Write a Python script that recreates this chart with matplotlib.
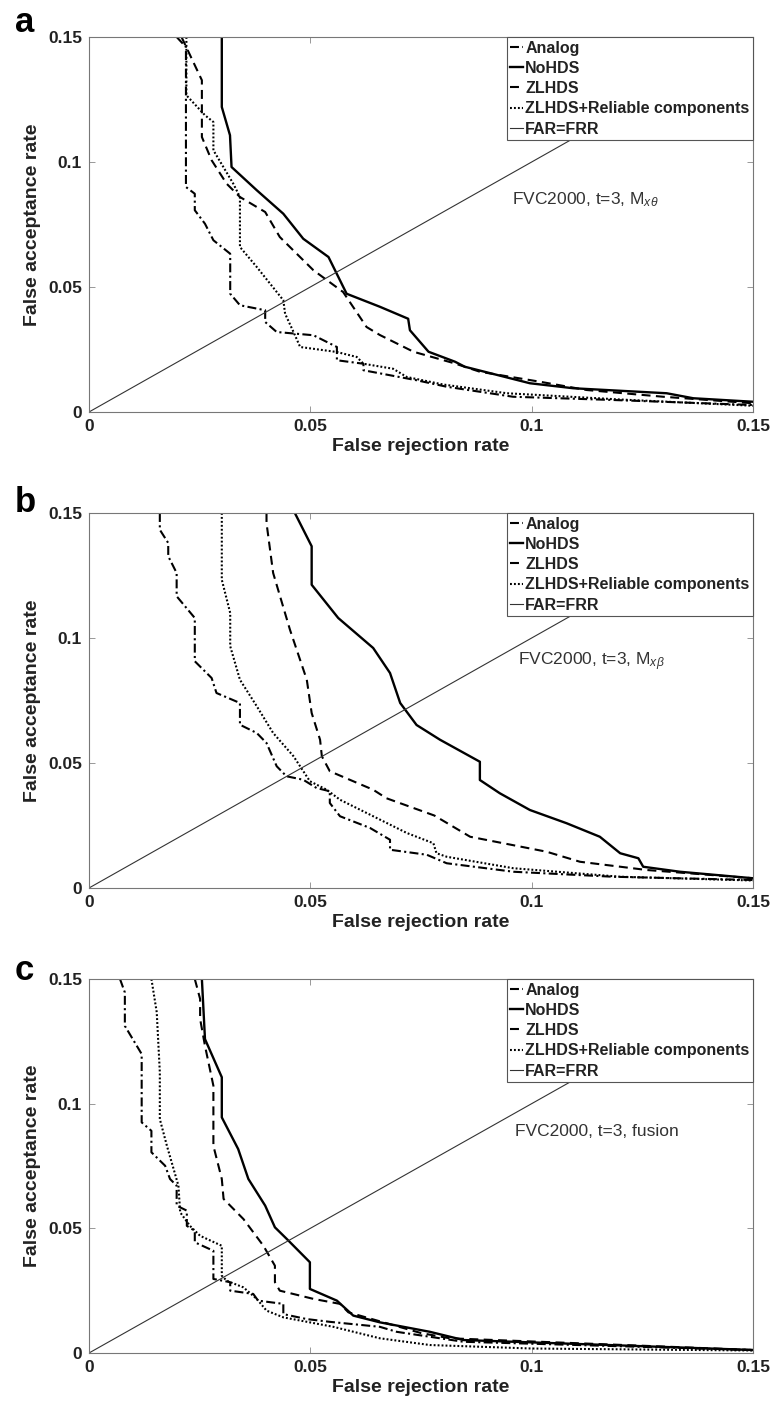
import matplotlib
matplotlib.use('Agg')
import matplotlib.pyplot as plt

plt.rcParams['font.family'] = ['Liberation Sans', 'DejaVu Sans']
plt.rcParams['mathtext.fontset'] = 'custom'
plt.rcParams['mathtext.rm'] = 'Liberation Sans'
plt.rcParams['mathtext.it'] = 'Liberation Sans:italic'

# ---- panel a: M_x theta ----
a_analog_x = [.0198, .0219, .0219, .0239, .0239, .0262, .0281, .0319, .0319, .0341, .0398, .0398, .0424,
              .0507, .056, .056, .062, .062, .074, .0808, .0958, .1184, .15]
a_analog_y = [.15, .146, .09, .0873, .0807, .0753, .0687, .0633, .0473, .0427, .0407, .036, .032,
              .0307, .026, .0207, .0193, .0167, .0127, .0101, .0061, .0048, .0028]
a_nohds_x = [.0300, .0300, .03185, .0322, .0379, .0439, .0484, .0541, .0582, .0657, .0721, .0725, .0767,
             .0827, .0849, .0996, .1094, .1305, .1365, .15]
a_nohds_y = [.15, .122, .1107, .098, .0887, .0793, .0693, .062, .0473, .0421, .0373, .0327, .0241,
             .0201, .0181, .0115, .0095, .0075, .0055, .0041]
a_zlhds_x = [.0209, .0255, .0255, .0277, .0311, .0341, .0398, .0431, .0507, .0574, .0627, .0657, .0733,
             .0823, .0883, .1019, .1124, .1297, .15]
a_zlhds_y = [.15, .1327, .11, .1007, .0913, .086, .080, .070, .0567, .048, .034, .0308, .0241,
             .0196, .0161, .0121, .0088, .0061, .0035]
a_rel_x = [.022, .022, .0262, .0281, .0281, .0326, .0341, .0341, .0379, .0439, .0443, .0462, .0477,
           .056, .0605, .062, .0687, .0718, .08, .0944, .12, .15]
a_rel_y = [.15, .1267, .1187, .116, .1047, .0913, .086, .066, .058, .0447, .0393, .032, .026,
           .024, .022, .0193, .0173, .014, .011, .0075, .005, .0025]

# ---- panel b: M_x beta ----
b_analog_x = [.016, .016, .0179, .0179, .0198, .0198, .0239, .0239, .0277, .0288, .0341, .0341, .0379,
              .0401, .0424, .0446, .0484, .0514, .0544, .0544, .0567, .0635, .068, .068, .0763, .0808,
              .0959, .1184, .15]
b_analog_y = [.15, .1433, .138, .1327, .126, .1167, .108, .0907, .084, .078, .074, .0653, .062,
              .058, .0487, .0447, .0433, .04, .0387, .034, .0287, .024, .0193, .0153, .0133, .0099,
              .0065, .0045, .0032]
b_nohds_x = [.0465, .0503, .0503, .0563, .0642, .068, .0703, .074, .0793, .0883, .0883, .0928, .0996,
             .1079, .1154, .12, .1241, .1252, .1335, .15]
b_nohds_y = [.15, .1367, .1213, .108, .096, .086, .074, .0652, .0593, .0505, .0432, .0379, .0312,
             .0259, .0205, .0139, .0119, .0085, .0065, .0039]
b_zlhds_x = [.0401, .0401, .0416, .0454, .0492, .0503, .0522, .0526, .0544, .0642, .0672, .078, .0861,
             .1034, .1109, .126, .15]
b_zlhds_y = [.15, .146, .126, .1033, .0833, .07, .0593, .0527, .0467, .0393, .0359, .029, .0205,
             .0145, .0105, .0072, .0039]
b_rel_x = [.03, .03, .0319, .0319, .0341, .0379, .0416, .0462, .0499, .0537, .0567, .0642, .0718,
           .0778, .0785, .0808, .0959, .12, .15]
b_rel_y = [.15, .1233, .11, .0967, .0833, .0727, .062, .0527, .0427, .0393, .0353, .0287, .022,
           .0179, .0139, .0125, .0079, .0045, .003]

# ---- panel c: fusion ----
c_analog_x = [.007, .0081, .0081, .0119, .0119, .0141, .0141, .0172, .0183, .0198, .0198, .0221, .0221,
              .0239, .0239, .0281, .0281, .0319, .0319, .0371, .0382, .0439, .0439, .0492, .0544,
              .0657, .0695, .0846, .15]
c_analog_y = [.15, .1446, .1312, .1199, .0925, .0891, .0805, .0751, .0698, .0671, .0591, .0571, .051,
              .049, .0444, .041, .0297, .0284, .025, .0237, .021, .0197, .0156, .0136, .0125,
              .0105, .0085, .0045, .0012]
c_nohds_x = [.0255, .0262, .03, .03, .0337, .036, .0398, .042, .0447, .0499, .0499, .056, .0597,
             .0657, .077, .0846, .15]
c_nohds_y = [.15, .1259, .1106, .0945, .0818, .0698, .0591, .0504, .0457, .0364, .0257, .021, .015,
             .0123, .0085, .0052, .0012]
c_zlhds_x = [.0239, .0251, .0251, .0262, .0281, .0281, .03, .0304, .0349, .0394, .042, .042, .0431,
             .0507, .0567, .0586, .075, .0815, .15]
c_zlhds_y = [.15, .142, .134, .1232, .1072, .0831, .0698, .0618, .0537, .043, .035, .0284, .025,
             .0217, .0197, .0163, .008, .0059, .0012]
c_rel_x = [.0141, .0153, .016, .016, .0176, .0202, .0206, .0228, .0251, .03, .03, .0311, .0349,
           .0379, .0401, .0439, .0552, .0657, .077, .10, .15]
c_rel_y = [.15, .1367, .1126, .0938, .0831, .0671, .0564, .051, .047, .043, .031, .029, .0263,
           .0217, .017, .0143, .0105, .0059, .0032, .0018, .0010]

panel_letters = ['a', 'b', 'c']
notes = [r'FVC2000, t=3, M$_{x\theta}$', r'FVC2000, t=3, M$_{x\beta}$', 'FVC2000, t=3, fusion']
note_pos = [(0.0956, 0.0848), (0.0969, 0.0904), (0.0962, 0.0888)]
ticks = [0, 0.05, 0.1, 0.15]
tick_labels = ['0', '0.05', '0.1', '0.15']

data = [
    (a_analog_x, a_analog_y, a_nohds_x, a_nohds_y, a_zlhds_x, a_zlhds_y, a_rel_x, a_rel_y),
    (b_analog_x, b_analog_y, b_nohds_x, b_nohds_y, b_zlhds_x, b_zlhds_y, b_rel_x, b_rel_y),
    (c_analog_x, c_analog_y, c_nohds_x, c_nohds_y, c_zlhds_x, c_zlhds_y, c_rel_x, c_rel_y),
]

W, H = 772, 1408
fig = plt.figure(figsize=(W / 100, H / 100), dpi=100)

# axes boxes in pixels: (top, bottom)
boxes = [(37, 412), (513, 888), (979, 1353)]
left_px, right_px = 89, 753
letter_base = [32, 512, 980]

for i, (top, bot) in enumerate(boxes):
    ax = fig.add_axes([left_px / W, 1 - bot / H, (right_px - left_px) / W, (bot - top) / H])
    ax_x, ax_y, no_x, no_y, zl_x, zl_y, re_x, re_y = data[i]

    ax.plot(ax_x, ax_y, color='k', lw=1.5, ls=(0, (4.3, 1.6, 1.0, 1.6)), label='Analog')
    ax.plot(no_x, no_y, color='k', lw=1.7, ls='-', label='NoHDS')
    ax.plot(zl_x, zl_y, color='k', lw=1.5, ls=(0, (4.3, 2.6)), label='ZLHDS')
    ax.plot(re_x, re_y, color='k', lw=1.5, ls=(0, (0.9, 1.0)), label='ZLHDS+Reliable components')
    ax.plot([0, 0.15], [0, 0.15], color='#333333', lw=0.8, label='FAR=FRR')

    ax.set_xlim(0, 0.15)
    ax.set_ylim(0, 0.15)
    ax.set_xticks(ticks)
    ax.set_yticks(ticks)
    ax.set_xticklabels(tick_labels, fontweight='bold', fontsize=12.5)
    ax.set_yticklabels(tick_labels, fontweight='bold', fontsize=12.5)
    ax.tick_params(direction='in', top=True, right=True, length=4, width=0.6, color='#888888',
                   pad=5, labelcolor='#222222')
    for sp in ax.spines.values():
        sp.set_color('#777777')
        sp.set_linewidth(0.8)

    ax.set_xlabel('False rejection rate', fontweight='bold', fontsize=14, labelpad=3, color='#222222')
    ax.set_ylabel('False acceptance rate', fontweight='bold', fontsize=14, labelpad=5, color='#222222')

    leg = ax.legend(loc='upper right', borderaxespad=0, fancybox=False, framealpha=1,
                    handlelength=0.8, handletextpad=0.15, labelspacing=0.33, borderpad=0.22,
                    prop={'weight': 'bold', 'size': 11.5})
    leg.get_frame().set_edgecolor('#555555')
    leg.get_frame().set_linewidth(0.8)
    for t in leg.get_texts():
        t.set_color('#222222')

    ax.text(note_pos[i][0], note_pos[i][1], notes[i], fontsize=12.5, color='#333333', va='center')

    fig.text(15 / W, 1 - letter_base[i] / H, panel_letters[i], fontsize=25, fontweight='bold',
             va='baseline', ha='left')

fig.savefig('out.png', dpi=100, facecolor='white')
